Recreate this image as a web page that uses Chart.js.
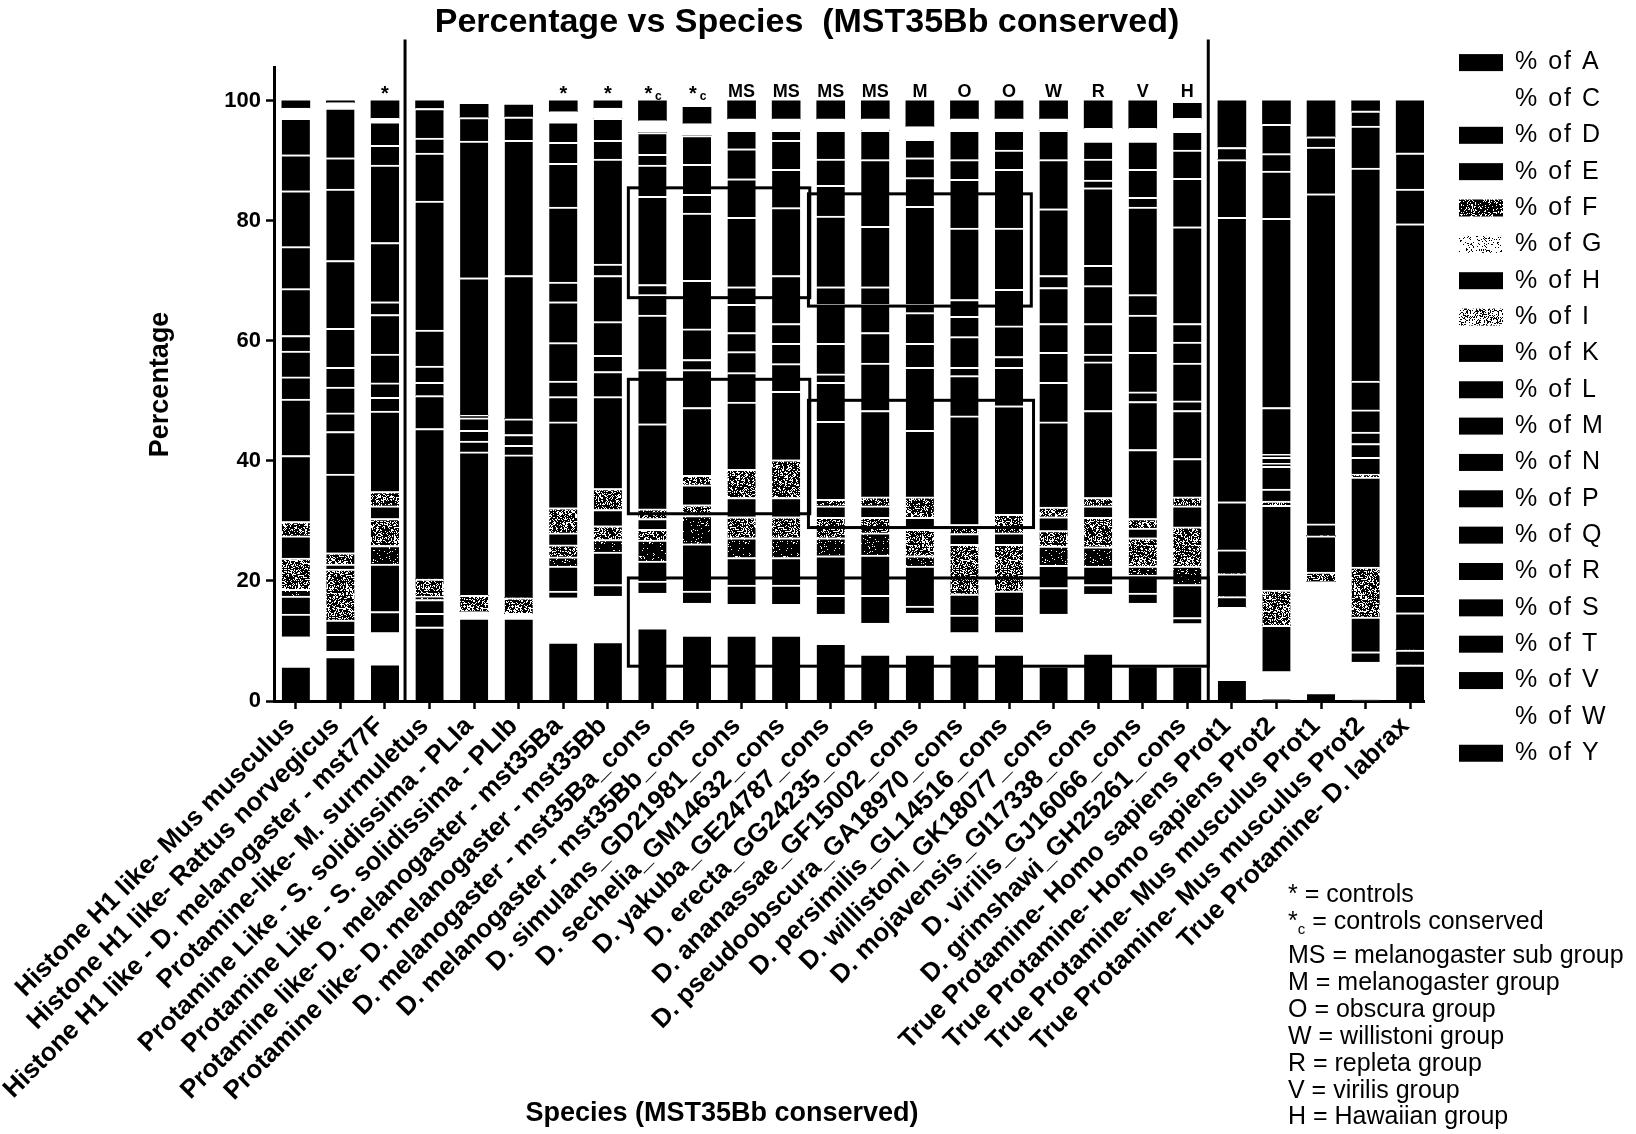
<!DOCTYPE html>
<html>
<head>
<meta charset="utf-8">
<title>Percentage vs Species (MST35Bb conserved)</title>
<script src="https://cdn.jsdelivr.net/npm/chart.js@4/dist/chart.umd.min.js"></script>
<style>
  html, body { margin: 0; padding: 0; background: #ffffff; }
  #wrap { width: 1636px; height: 1134px; }
</style>
</head>
<body>
<div id="wrap"><canvas id="chart" width="1636" height="1134"></canvas></div>
<script>
// ---- categories -----------------------------------------------------------
const species = [
  'Histone H1 like- Mus musculus',
  'Histone H1 like- Rattus norvegicus',
  'Histone H1 like - D. melanogaster - mst77F',
  'Protamine-like- M. surmuletus',
  'Protamine Like - S. solidissima - PLIa',
  'Protamine Like - S. solidissima - PLIb',
  'Protamine like- D. melanogaster - mst35Ba',
  'Protamine like- D. melanogaster - mst35Bb',
  'D. melanogaster - mst35Ba_cons',
  'D. melanogaster - mst35Bb_cons',
  'D. simulans_GD21981_cons',
  'D. sechelia_GM14632_cons',
  'D. yakuba_GE24787_cons',
  'D. erecta_GG24235_cons',
  'D. ananassae_GF15002_cons',
  'D. pseudoobscura_GA18970_cons',
  'D. persimilis_GL14516_cons',
  'D. willistoni_GK18077_cons',
  'D. mojavensis_GI17338_cons',
  'D. virilis_GJ16066_cons',
  'D. grimshawi_GH25261_cons',
  'True Protamine- Homo sapiens Prot1',
  'True Protamine- Homo sapiens Prot2',
  'True Protamine- Mus musculus Prot1',
  'True Protamine- Mus musculus Prot2',
  'True Protamine- D. labrax'
];

// group tag printed above each bar
const groupTags = ['', '', '*', '', '', '', '*', '*', '*c', '*c', 'MS', 'MS', 'MS', 'MS',
  'M', 'O', 'O', 'W', 'R', 'V', 'H', '', '', '', '', ''];

// amino-acid residues, stacked from the baseline upwards
const residues = ['A', 'C', 'D', 'E', 'F', 'G', 'H', 'I', 'K', 'L', 'M', 'N', 'P', 'Q', 'R', 'S', 'T', 'V', 'W', 'Y'];

// ---- percentage of each residue per sequence (same order as species) -------
const pctA = [5.8, 7.4, 6.2, 12.3, 13.8, 13.8, 9.8, 9.9, 12.2, 11.0, 11.0, 11.0, 9.6, 7.8, 7.8, 7.8, 7.8, 5.8, 8.0, 5.9, 5.8, 3.6, 0.3, 1.4, 0.2, 6.0];
const pctC = [4.9, 0.9, 5.2, 0, 1.1, 0.8, 7.4, 7.6, 5.8, 5.3, 5.1, 5.1, 4.9, 5.2, 6.8, 3.6, 3.6, 8.7, 9.8, 10.4, 7.1, 12.0, 4.6, 18.5, 6.3, 0];
const pctD = [3.8, 2.8, 3.5, 2.3, 0, 0, 1.1, 1.9, 2.0, 2.0, 3.2, 3.2, 3.1, 4.6, 1.2, 2.9, 2.9, 4.4, 1.6, 1.7, 1.0, 0, 7.7, 0, 1.7, 0];
const pctE = [3.0, 2.4, 7.9, 2.3, 0, 0, 4.2, 5.4, 3.3, 7.9, 4.6, 4.6, 6.6, 6.7, 6.7, 3.5, 4.0, 3.7, 3.1, 3.0, 5.5, 1.8, 0, 0, 5.8, 0];
const pctF = [1.1, 0, 3.1, 0.6, 0, 0, 1.5, 2.1, 3.5, 4.7, 3.3, 3.3, 3.0, 3.7, 1.7, 0, 0, 3.2, 3.2, 1.5, 3.1, 0, 0, 0, 0, 0];
const pctG = [5.2, 8.5, 4.5, 2.8, 2.7, 2.6, 2.0, 2.3, 1.8, 1.8, 3.5, 3.5, 3.4, 2.6, 4.4, 8.3, 7.8, 2.6, 4.9, 4.7, 6.5, 0, 5.9, 1.6, 8.3, 0];
const pctH = [3.7, 0.8, 2.1, 0, 0, 0, 2.0, 2.7, 1.8, 3.3, 3.2, 3.2, 1.9, 1.9, 2.0, 1.8, 1.9, 2.3, 1.9, 1.6, 3.5, 3.8, 14.1, 6.0, 15.0, 2.5];
const pctI = [2.4, 1.9, 2.4, 0, 0, 0, 4.2, 3.5, 1.6, 1.6, 4.7, 6.3, 1.1, 1.5, 3.4, 1.5, 3.1, 1.6, 1.4, 1.6, 1.5, 0, 0.7, 0, 0.5, 0];
const pctK = [11.0, 13.1, 13.4, 25.1, 23.9, 23.8, 14.3, 15.3, 14.2, 11.3, 11.2, 11.4, 13.0, 14.4, 11.1, 18.1, 18.1, 14.2, 14.5, 11.5, 6.4, 0, 2.0, 0, 2.8, 0];
const pctL = [9.4, 7.1, 2.3, 5.5, 1.8, 1.6, 4.2, 4.2, 9.0, 6.3, 4.9, 4.6, 6.5, 7.9, 10.5, 6.7, 6.4, 6.6, 8.1, 8.0, 8.0, 4.0, 3.8, 0, 2.3, 0];
const pctM = [3.7, 3.1, 2.4, 0, 1.8, 1.8, 2.6, 2.7, 9.1, 1.7, 3.5, 3.4, 1.4, 5.1, 4.0, 1.4, 1.8, 5.0, 1.3, 1.6, 1.6, 0, 0.5, 0, 1.9, 0];
const pctN = [4.3, 4.3, 4.8, 2.2, 2.1, 2.6, 6.4, 5.6, 3.4, 5.1, 3.2, 3.3, 5.1, 4.7, 5.1, 5.1, 5.1, 4.8, 5.1, 6.6, 6.3, 0, 1.0, 0, 3.7, 0];
const pctP = [2.6, 3.3, 6.6, 2.7, 0.4, 0, 6.8, 7.7, 1.7, 8.1, 4.7, 8.0, 6.5, 2.9, 1.4, 3.4, 6.1, 6.0, 6.3, 6.2, 3.5, 0, 0.5, 0, 4.8, 6.2];
const pctQ = [7.8, 6.5, 2.1, 6.0, 0, 0, 3.3, 1.9, 14.7, 11.2, 2.9, 11.3, 2.9, 10.1, 16.3, 2.8, 10.2, 2.0, 3.4, 3.4, 3.1, 8.0, 7.8, 2.0, 0, 2.9];
const pctR = [7.0, 11.3, 9.9, 21.5, 22.9, 23.9, 12.5, 17.5, 5.2, 3.1, 11.6, 6.4, 11.8, 11.1, 4.8, 11.9, 9.8, 11.1, 12.9, 14.6, 16.1, 47.4, 31.5, 55.0, 35.5, 61.9];
const pctS = [9.3, 11.9, 12.9, 8.0, 22.8, 22.5, 7.3, 3.1, 1.8, 5.0, 6.4, 4.8, 5.1, 4.9, 3.3, 8.1, 3.2, 8.2, 1.3, 1.6, 8.1, 9.6, 7.9, 7.8, 7.0, 5.8];
const pctT = [6.0, 5.2, 3.3, 2.5, 3.9, 3.9, 3.5, 3.7, 3.6, 4.8, 5.0, 1.7, 4.4, 0, 3.1, 3.3, 3.3, 4.9, 3.5, 4.7, 4.7, 0, 2.9, 1.7, 2.5, 6.0];
const pctV = [6.1, 8.3, 3.9, 4.9, 0, 0, 3.4, 0, 0, 0, 3.1, 0, 4.8, 0, 0, 4.9, 0, 0, 3.0, 4.7, 3.1, 2.0, 4.9, 0, 0, 0];
const pctW = [1.7, 0.9, 0.6, 0, 0, 0, 1.7, 1.7, 2.0, 2.0, 1.9, 1.9, 1.9, 1.9, 2.1, 1.9, 1.9, 1.9, 2.1, 2.1, 2.2, 0, 0, 0, 0, 0];
const pctY = [1.2, 0.3, 2.9, 1.3, 2.2, 2.0, 1.8, 1.2, 3.3, 2.7, 3.0, 3.0, 3.0, 3.0, 4.3, 3.0, 3.0, 3.0, 4.6, 4.6, 2.5, 7.8, 3.9, 6.0, 1.7, 8.7];

const yTicks = [0, 20, 40, 60, 80, 100];

const noteLines = [
  ['*', ' = controls'],
  ['*c', ' = controls conserved'],
  ['MS', ' = melanogaster sub group'],
  ['M', ' = melanogaster group'],
  ['O', ' = obscura group'],
  ['W', ' = willistoni group'],
  ['R', ' = repleta group'],
  ['V', ' = virilis group'],
  ['H', ' = Hawaiian group']
];

// ---- styling ---------------------------------------------------------------
const FONT = '"Liberation Sans", Arial, Helvetica, sans-serif';
const canvas = document.getElementById('chart');
const baseCtx = canvas.getContext('2d');

// speckled fill; `density` is the share of dark cells
function speckle(density, seed, cell) {
  const n = 48;
  const tile = document.createElement('canvas');
  tile.width = tile.height = n * cell;
  const g = tile.getContext('2d');
  g.fillStyle = '#ffffff';
  g.fillRect(0, 0, tile.width, tile.height);
  g.fillStyle = '#000000';
  let s = seed >>> 0;
  for (let r = 0; r < n; r++) {
    for (let c = 0; c < n; c++) {
      s = (Math.imul(s, 1103515245) + 12345) >>> 0;
      if ((s >>> 8) / 16777216 < density) g.fillRect(c * cell, r * cell, cell, cell);
    }
  }
  return baseCtx.createPattern(tile, 'repeat');
}

const barFill = {
  C: '#ffffff', W: '#ffffff',
  F: speckle(0.93, 11, 1), G: speckle(0.64, 23, 1), I: speckle(0.7, 37, 1)
};
const keyFill = {
  C: null, W: null,
  F: speckle(0.8, 41, 1), G: speckle(0.14, 53, 1), I: speckle(0.34, 67, 1)
};
const fillOf = code => barFill[code] || '#000000';

const seriesValues = {
  A: pctA, C: pctC, D: pctD, E: pctE, F: pctF, G: pctG, H: pctH, I: pctI, K: pctK, L: pctL,
  M: pctM, N: pctN, P: pctP, Q: pctQ, R: pctR, S: pctS, T: pctT, V: pctV, W: pctW, Y: pctY
};

// index of the highest non-empty segment in each bar (it gets no separator on top)
const topSegment = species.map((_, i) => {
  let top = -1;
  residues.forEach((code, k) => { if (seriesValues[code][i] > 0) top = k; });
  return top;
});

const datasets = residues.map((code, k) => ({
  label: '% of ' + code,
  data: seriesValues[code].map((v, i) => ({ x: i, y: v })),
  backgroundColor: fillOf(code),
  borderColor: '#ffffff',
  borderWidth: c => ({ top: topSegment[c.dataIndex] === k ? 0 : 2, right: 0, bottom: 0, left: 0 }),
  barThickness: 28
}));

// ---- annotation drawing ----------------------------------------------------
const dividerAt = [2.45, 20.47];
const frames = [
  { from: 7.46, to: 11.53, top: 85.5, bottom: 67.2 },
  { from: 7.46, to: 11.53, top: 53.6, bottom: 31.2 },
  { from: 11.5, to: 16.5, top: 84.5, bottom: 65.8 },
  { from: 11.5, to: 16.55, top: 50.1, bottom: 28.9 },
  { from: 7.46, to: 20.47, top: 20.5, bottom: 5.8 }
];

const framePlugin = {
  id: 'frames',
  afterDatasetsDraw(chart) {
    const { ctx, scales: { x, y } } = chart;
    ctx.save();
    ctx.strokeStyle = '#000000';
    ctx.lineWidth = 3;
    dividerAt.forEach(pos => {
      const px = x.getPixelForValue(pos);
      ctx.beginPath();
      ctx.moveTo(px, y.getPixelForValue(110.2));
      ctx.lineTo(px, y.getPixelForValue(0));
      ctx.stroke();
    });
    frames.forEach(f => {
      const x0 = x.getPixelForValue(f.from), x1 = x.getPixelForValue(f.to);
      const y0 = y.getPixelForValue(f.top), y1 = y.getPixelForValue(f.bottom);
      ctx.strokeRect(x0, y0, x1 - x0, y1 - y0);
    });

    // group tags above the bars
    ctx.fillStyle = '#000000';
    ctx.textAlign = 'center';
    ctx.textBaseline = 'alphabetic';
    const base = y.getPixelForValue(100.7);
    groupTags.forEach((tag, i) => {
      if (!tag) return;
      const cx = x.getPixelForValue(i);
      if (tag === '*c') {
        ctx.font = `bold 20px ${FONT}`;
        ctx.fillText('*', cx - 4, base + 3);
        ctx.font = `bold 12px ${FONT}`;
        ctx.fillText('c', cx + 6, base + 3);
      } else if (tag === '*') {
        ctx.font = `bold 20px ${FONT}`;
        ctx.fillText('*', cx, base + 3);
      } else {
        ctx.font = `bold 18px ${FONT}`;
        ctx.fillText(tag, cx, base);
      }
    });
    ctx.restore();
  }
};

const keyPlugin = {
  id: 'residueKey',
  afterDraw(chart) {
    const { ctx, chartArea } = chart;
    ctx.save();
    // residue key
    const boxLeft = chartArea.right + 35;
    const textLeft = boxLeft + 56;
    ctx.textAlign = 'left';
    ctx.textBaseline = 'middle';
    ctx.font = `25px ${FONT}`;
    if ('letterSpacing' in ctx) ctx.letterSpacing = '2px';
    residues.forEach((code, i) => {
      const cy = 62.6 + i * 36.35;
      const fill = code in keyFill ? keyFill[code] : '#000000';
      if (fill) {
        ctx.fillStyle = fill;
        ctx.fillRect(boxLeft, cy - 8.5, 44, 17);
      }
      ctx.fillStyle = '#000000';
      ctx.fillText('% of ' + code, textLeft, cy);
    });
    if ('letterSpacing' in ctx) ctx.letterSpacing = '0px';

    // abbreviations
    const noteX = 1288;
    const noteY = [895, 922, 956, 983, 1010, 1037, 1064, 1091, 1117];
    ctx.font = `25px ${FONT}`;
    noteLines.forEach(([key, rest], i) => {
      let xPos = noteX;
      const yPos = noteY[i];
      if (key === '*c') {
        ctx.font = `25px ${FONT}`;
        ctx.fillText('*', xPos, yPos);
        xPos += ctx.measureText('*').width;
        ctx.font = `15px ${FONT}`;
        ctx.fillText('c', xPos, yPos + 8);
        xPos += ctx.measureText('c').width;
        ctx.font = `25px ${FONT}`;
      } else {
        ctx.fillText(key, xPos, yPos);
        xPos += ctx.measureText(key).width;
      }
      ctx.fillText(rest, xPos, yPos);
    });

    // x axis caption
    ctx.textAlign = 'center';
    ctx.font = `bold 27px ${FONT}`;
    ctx.fillText('Species (MST35Bb conserved)', 722, 1114);
    ctx.restore();
  }
};

// ---- chart -----------------------------------------------------------------
new Chart(baseCtx, {
  type: 'bar',
  data: { datasets },
  options: {
    responsive: false,
    animation: false,
    events: [],
    layout: { padding: { left: 0, right: 22, top: 0, bottom: 0 } },
    plugins: {
      legend: { display: false },
      tooltip: { enabled: false },
      title: {
        display: true,
        text: 'Percentage vs Species  (MST35Bb conserved)',
        color: '#000000',
        font: { family: FONT, size: 34, weight: 'bold' },
        padding: { top: 2, bottom: 25 }
      }
    },
    scales: {
      x: {
        type: 'linear',
        stacked: true,
        offset: false,
        min: -0.49,
        max: 25.31,
        grid: { display: true, offset: false, drawOnChartArea: false, drawTicks: true, tickLength: 8, tickWidth: 2.5, tickColor: '#000000' },
        border: { display: true, color: '#000000', width: 3 },
        ticks: {
          stepSize: 1,
          autoSkip: false,
          includeBounds: false,
          minRotation: 45,
          maxRotation: 45,
          padding: 2,
          labelOffset: -5,
          color: '#000000',
          font: { family: FONT, size: 26, weight: 'bold' },
          callback: v => (Number.isInteger(v) && species[v]) ? species[v] : ''
        },
        afterFit(scale) {
          scale.height = 433;
          scale.paddingLeft = 0;
          scale.paddingRight = 0;
        }
      },
      y: {
        stacked: true,
        min: 0,
        max: 105.5,
        grid: { display: true, drawOnChartArea: false, drawTicks: true, tickLength: 8, tickWidth: 2.5, tickColor: '#000000' },
        border: { display: true, color: '#000000', width: 3 },
        afterBuildTicks(scale) {
          scale.ticks = yTicks.map(v => ({ value: v }));
        },
        ticks: {
          padding: 5,
          color: '#000000',
          font: { family: FONT, size: 22, weight: 'bold' }
        },
        title: {
          display: true,
          text: 'Percentage',
          color: '#000000',
          font: { family: FONT, size: 27, weight: 'bold' },
          padding: { top: 144, bottom: 0 }
        },
        afterFit(scale) {
          scale.width = 274;
        }
      },
      ySpacer: {
        position: 'right',
        display: true,
        grid: { display: false },
        border: { display: false },
        ticks: { display: false },
        afterFit(scale) {
          scale.width = 190;
        }
      }
    }
  },
  plugins: [framePlugin, keyPlugin]
});
</script>
</body>
</html>
